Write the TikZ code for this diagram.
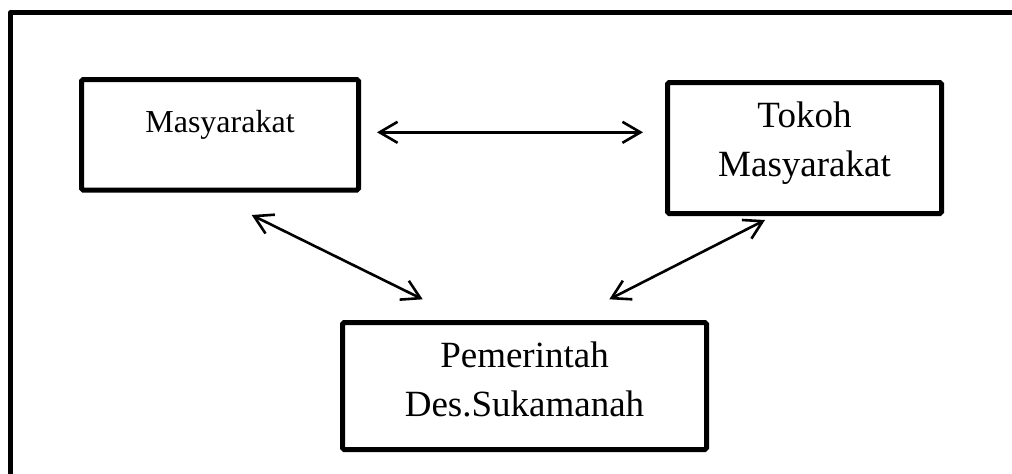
\documentclass[tikz,border=0pt]{standalone}
\usepackage{fontspec}
\setmainfont{Liberation Serif}
\usetikzlibrary{positioning, arrows.meta}

\begin{document}
\begin{tikzpicture}[x=0.5pt, y=-0.5pt,
    box/.style={draw, line width=2.5pt, rounded corners=0.8pt, inner sep=0pt, align=center},
    bigtext/.style={font=\fontsize{18.5}{24.5}\selectfont},
    smalltext/.style={font=\fontsize{16}{20}\selectfont},
    link/.style={line width=1.3pt, {Straight Barb[length=9pt,width=10.5pt]}-{Straight Barb[length=9pt,width=10.5pt]}},
    ]
\useasboundingbox (0,0) rectangle (1012,473);
\draw[line width=2.5pt, line join=round] (10.5,480) -- (10.5,12.5) -- (1020,12.5);

\node[box, smalltext, minimum width=138.5pt, minimum height=55.25pt, text depth=13.7pt] (masy) at (220,134.75) {Masyarakat};
\node[box, bigtext, minimum width=137pt, minimum height=65.5pt, text depth=8.5pt] (tokoh) at (804.5,148) {Tokoh\\Masyarakat};
\node[box, bigtext, minimum width=182pt, minimum height=63.5pt, text depth=6.5pt] (pemdes) at (524.5,386) {Pemerintah\\Des.Sukamanah};

\coordinate (h1) at (377,132.3);
\coordinate (h2) at (643,132.3);
\coordinate (l1) at (251.7,215);
\coordinate (l2) at (422.7,299.3);
\coordinate (r1) at (765,220);
\coordinate (r2) at (609.3,299.3);

\draw[link] (h1) -- (h2);
\draw[link] (l1) -- (l2);
\draw[link] (r1) -- (r2);
\end{tikzpicture}
\end{document}
